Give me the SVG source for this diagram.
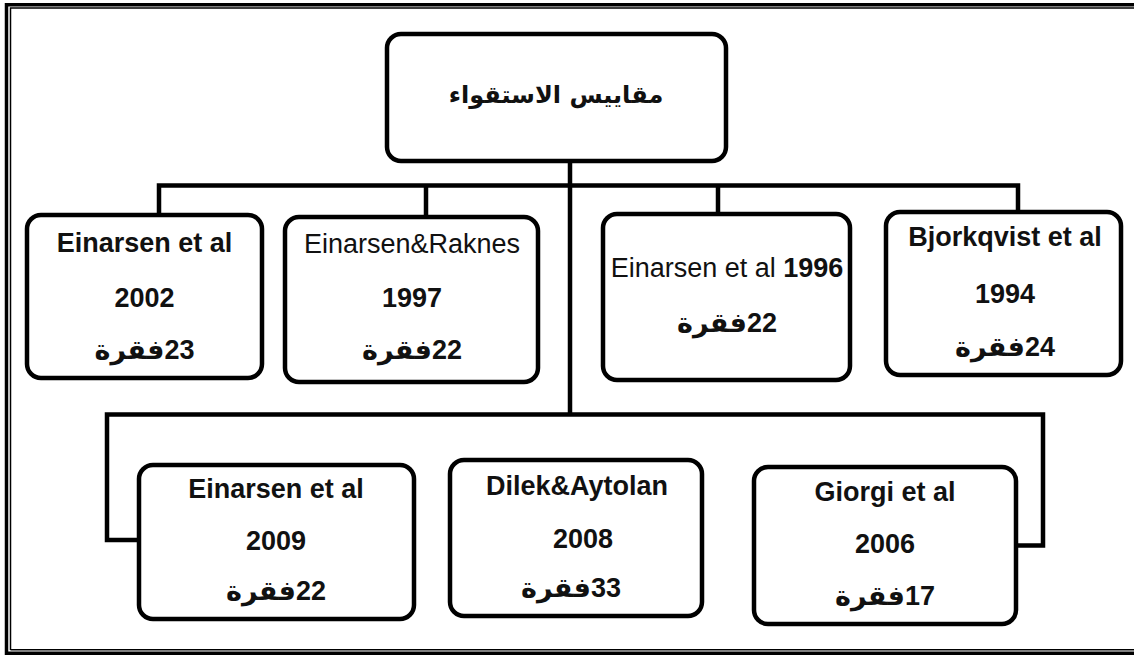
<svg xmlns="http://www.w3.org/2000/svg" width="1134" height="655" viewBox="0 0 1134 655">
<style>
.box{fill:#fff;stroke:#000;stroke-width:4.5}
.conn{fill:none;stroke:#000;stroke-width:4.5;stroke-linejoin:miter}
.frame-thick{fill:none;stroke:#000;stroke-width:3.5}
.frame-thin{fill:none;stroke:#000;stroke-width:1.5}
text{font-family:"Liberation Sans","DejaVu Sans",sans-serif;font-size:27px;fill:#111;text-anchor:middle;font-weight:bold}
.reg{font-weight:normal}
.root{font-family:"DejaVu Sans","Noto Sans",sans-serif;font-size:24px}
</style>
<rect width="1134" height="655" fill="#fff"/>
<g id="frame">
<path class="frame-thick" d="M6.5,655 V4.7 H1134"/>
<path class="frame-thick" d="M6.5,653.3 H1134"/>
<path class="frame-thin" d="M10.5,650 V8 H1134"/>
<path class="frame-thin" d="M10.5,649.8 H1134"/>
</g>
<g id="connectors">
<path class="conn" d="M570,161 V414.5"/>
<path class="conn" d="M159,215 V185.5 H1018 V212"/>
<path class="conn" d="M426,185.5 V217"/>
<path class="conn" d="M718,185.5 V214"/>
<path class="conn" d="M139,540 H107 V414.5 H1043 V545.5 H1016"/>
</g>
<g id="root">
<rect class="box" x="387" y="34" width="339" height="127" rx="14"/>
<text class="root" x="556" y="103">مقاييس الاستقواء</text>
</g>
<g id="n-einarsen2002">
<rect class="box" x="27" y="215" width="235" height="163" rx="14"/>
<text x="144.5" y="252">Einarsen et al</text>
<text x="144.5" y="307">2002</text>
<text x="144.5" y="359">فقرة&#x200E;23</text>
</g>
<g id="n-einarsen1997">
<rect class="box" x="285" y="217" width="253" height="165" rx="14"/>
<text class="reg" x="412" y="253">Einarsen&amp;Raknes</text>
<text x="412" y="307">1997</text>
<text x="412" y="359">فقرة&#x200E;22</text>
</g>
<g id="n-einarsen1996">
<rect class="box" x="603" y="214" width="247" height="166" rx="14"/>
<text x="727" y="277"><tspan class="reg">Einarsen et al </tspan>1996</text>
<text x="727" y="332">فقرة&#x200E;22</text>
</g>
<g id="n-bjorkqvist1994">
<rect class="box" x="886" y="212" width="235" height="163" rx="14"/>
<text x="1005" y="246">Bjorkqvist et al</text>
<text x="1005" y="303">1994</text>
<text x="1005" y="356">فقرة&#x200E;24</text>
</g>
<g id="n-einarsen2009">
<rect class="box" x="139" y="465" width="275" height="154" rx="14"/>
<text x="276" y="498">Einarsen et al</text>
<text x="276" y="550">2009</text>
<text x="276" y="600">فقرة&#x200E;22</text>
</g>
<g id="n-dilek2008">
<rect class="box" x="450" y="460" width="252" height="156" rx="14"/>
<text x="577" y="495">Dilek&amp;Aytolan</text>
<text x="583" y="548">2008</text>
<text x="571" y="597">فقرة&#x200E;33</text>
</g>
<g id="n-giorgi2006">
<rect class="box" x="754" y="467" width="262" height="157" rx="14"/>
<text x="885" y="501">Giorgi et al</text>
<text x="885" y="553">2006</text>
<text x="885" y="605">فقرة&#x200E;17</text>
</g>
</svg>
